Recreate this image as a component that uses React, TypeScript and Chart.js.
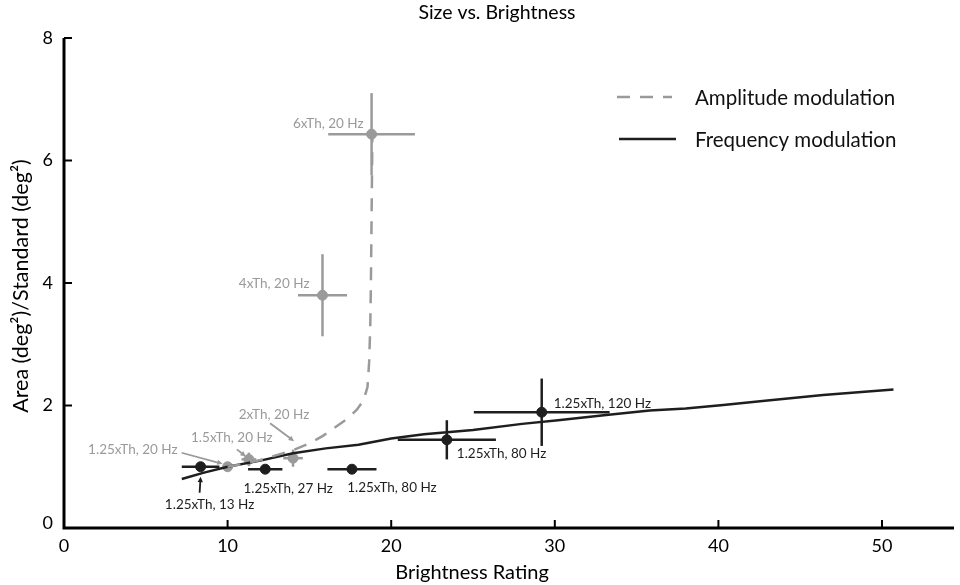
import React, { useEffect, useRef } from "react";
import { Chart, registerables } from "chart.js";

Chart.register(...registerables);

// ---- data ----
const xTicks = [0, 10, 20, 30, 40, 50];
const yTicks = [0, 2, 4, 6, 8];

// Amplitude modulation fitted curve
const amCurveX = [10, 11, 12, 13, 14, 15, 15.8, 16.6, 17.3, 17.9, 18.3, 18.55, 18.65, 18.72, 18.76, 18.79, 18.82, 18.85];
const amCurveY = [1.0, 1.05, 1.11, 1.19, 1.27, 1.38, 1.5, 1.65, 1.78, 1.93, 2.08, 2.3, 2.7, 3.3, 4.0, 4.8, 5.6, 6.43];

// Frequency modulation fitted curve
const fmCurveX = [7.2, 8.5, 10, 12, 14, 16, 18, 20, 22, 25, 28, 30.2, 33, 35.8, 38, 40.3, 43, 46.4, 50.7];
const fmCurveY = [0.8, 0.9, 1.0, 1.1, 1.22, 1.3, 1.36, 1.46, 1.53, 1.6, 1.7, 1.76, 1.84, 1.92, 1.95, 2.01, 2.08, 2.17, 2.26];

// Amplitude modulation points
const amLabels = ["1.25xTh, 20 Hz", "1.5xTh, 20 Hz", "2xTh, 20 Hz", "4xTh, 20 Hz", "6xTh, 20 Hz"];
const amX = [10.0, 11.3, 14.0, 15.8, 18.8];
const amY = [1.0, 1.12, 1.14, 3.8, 6.43];
const amXErr = [0, 0.45, 0.6, 1.5, 2.65];
const amYErr = [0, 0.11, 0.14, 0.67, 0.67];

// Frequency modulation points
const fmLabels = ["1.25xTh, 13 Hz", "1.25xTh, 27 Hz", "1.25xTh, 80 Hz", "1.25xTh, 80 Hz", "1.25xTh, 120 Hz"];
const fmX = [8.35, 12.3, 17.6, 23.4, 29.2];
const fmY = [1.0, 0.96, 0.96, 1.44, 1.89];
const fmXErr = [1.15, 1.05, 1.5, 3.0, 4.15];
const fmYErr = [0, 0, 0, 0.32, 0.55];

// ---- styling / label placement (pixel offsets from each point) ----
const GRAY = "#9a9a9a";
const BLACK = "#1e1e1e";
const FONT = "Lato, 'Open Sans', sans-serif";

type Ann = { dx: number; dy: number; align: CanvasTextAlign; arrow?: [number, number, number, number] };
const amAnn: Ann[] = [
  { dx: -50, dy: -17, align: "right", arrow: [-46, -14, -5, -3] },
  { dx: -17, dy: -22, align: "center", arrow: [-12, -10, -3, -3] },
  { dx: -19, dy: -44, align: "center", arrow: [-23, -35, 1, -17] },
  { dx: -13, dy: -12, align: "right" },
  { dx: -8, dy: -11, align: "right" },
];
const fmAnn: Ann[] = [
  { dx: 9, dy: 38, align: "center", arrow: [-1, 26, 0, 10] },
  { dx: 23, dy: 19, align: "center" },
  { dx: 40, dy: 18, align: "center" },
  { dx: 10, dy: 14, align: "left" },
  { dx: 12, dy: -9, align: "left" },
];

function drawArrow(ctx: CanvasRenderingContext2D, x1: number, y1: number, x2: number, y2: number, color: string) {
  ctx.save();
  ctx.strokeStyle = color;
  ctx.fillStyle = color;
  ctx.lineWidth = 1.8;
  const ang = Math.atan2(y2 - y1, x2 - x1);
  const hl = 6;
  ctx.beginPath();
  ctx.moveTo(x1, y1);
  ctx.lineTo(x2 - Math.cos(ang) * hl * 0.8, y2 - Math.sin(ang) * hl * 0.8);
  ctx.stroke();
  ctx.beginPath();
  ctx.moveTo(x2, y2);
  ctx.lineTo(x2 - hl * Math.cos(ang - 0.45), y2 - hl * Math.sin(ang - 0.45));
  ctx.lineTo(x2 - hl * Math.cos(ang + 0.45), y2 - hl * Math.sin(ang + 0.45));
  ctx.closePath();
  ctx.fill();
  ctx.restore();
}

const customPlugin = {
  id: "custom",
  beforeDatasetsDraw(chart: any) {
    const ctx: CanvasRenderingContext2D = chart.ctx;
    const xs = chart.scales.x;
    const ys = chart.scales.y;
    const bars = (X: number[], Y: number[], XE: number[], YE: number[], color: string) => {
      ctx.save();
      ctx.strokeStyle = color;
      ctx.lineWidth = 2.5;
      for (let i = 0; i < X.length; i++) {
        const px = xs.getPixelForValue(X[i]);
        const py = ys.getPixelForValue(Y[i]);
        if (XE[i] > 0) {
          ctx.beginPath();
          ctx.moveTo(xs.getPixelForValue(X[i] - XE[i]), py);
          ctx.lineTo(xs.getPixelForValue(X[i] + XE[i]), py);
          ctx.stroke();
        }
        if (YE[i] > 0) {
          ctx.beginPath();
          ctx.moveTo(px, ys.getPixelForValue(Y[i] - YE[i]));
          ctx.lineTo(px, ys.getPixelForValue(Y[i] + YE[i]));
          ctx.stroke();
        }
      }
      ctx.restore();
    };
    bars(amX, amY, amXErr, amYErr, GRAY);
    bars(fmX, fmY, fmXErr, fmYErr, BLACK);
  },
  afterDraw(chart: any) {
    const ctx: CanvasRenderingContext2D = chart.ctx;
    const xs = chart.scales.x;
    const ys = chart.scales.y;
    const area = chart.chartArea;
    ctx.save();
    // axes
    ctx.strokeStyle = "#000";
    ctx.lineWidth = 3;
    ctx.beginPath();
    ctx.moveTo(area.left, area.top);
    ctx.lineTo(area.left, area.bottom);
    ctx.lineTo(area.right, area.bottom);
    ctx.stroke();
    // inward ticks
    ctx.lineWidth = 2;
    xTicks.forEach((v) => {
      if (v === 0) return;
      const px = xs.getPixelForValue(v);
      ctx.beginPath();
      ctx.moveTo(px, area.bottom);
      ctx.lineTo(px, area.bottom - 8);
      ctx.stroke();
    });
    yTicks.forEach((v) => {
      if (v === 0) return;
      const py = ys.getPixelForValue(v);
      ctx.beginPath();
      ctx.moveTo(area.left, py);
      ctx.lineTo(area.left + 8, py);
      ctx.stroke();
    });
    // tick labels
    ctx.fillStyle = "#000";
    ctx.font = `18px ${FONT}`;
    ctx.textAlign = "center";
    ctx.textBaseline = "middle";
    xTicks.forEach((v) => ctx.fillText(String(v), xs.getPixelForValue(v), area.bottom + 18));
    ctx.textAlign = "right";
    yTicks.forEach((v) => ctx.fillText(String(v), area.left - 11, ys.getPixelForValue(v) - (v === 0 ? 5 : 0)));
    // axis titles
    ctx.font = `20px ${FONT}`;
    ctx.textAlign = "center";
    ctx.fillText("Brightness Rating", 472, 573);
    ctx.save();
    ctx.font = `21.5px ${FONT}`;
    ctx.translate(21, 286);
    ctx.rotate(-Math.PI / 2);
    ctx.fillText("Area (deg\u00B2)/Standard (deg\u00B2)", 0, 0);
    ctx.restore();
    // title
    ctx.font = `19.5px ${FONT}`;
    ctx.fillText("Size vs. Brightness", 497, 13);
    // legend
    const ds = chart.data.datasets;
    ctx.font = `20.5px ${FONT}`;
    ctx.textAlign = "left";
    const legendRows = [
      { ds: ds[0], y: 97, x1: 617, x2: 672 },
      { ds: ds[1], y: 139, x1: 619, x2: 676 },
    ];
    legendRows.forEach((r) => {
      ctx.save();
      ctx.strokeStyle = r.ds.borderColor;
      ctx.lineWidth = r.ds.borderWidth;
      ctx.setLineDash(r.ds.borderDash || []);
      ctx.beginPath();
      ctx.moveTo(r.x1, r.y);
      ctx.lineTo(r.x2, r.y);
      ctx.stroke();
      ctx.restore();
      ctx.fillStyle = "#111";
      ctx.fillText(r.ds.label, 695, r.y + 1);
    });
    // annotations
    ctx.font = `13.5px ${FONT}`;
    const ann = (X: number[], Y: number[], L: string[], A: Ann[], color: string) => {
      for (let i = 0; i < X.length; i++) {
        const px = xs.getPixelForValue(X[i]);
        const py = ys.getPixelForValue(Y[i]);
        const a = A[i];
        ctx.fillStyle = color;
        ctx.textAlign = a.align;
        ctx.textBaseline = "middle";
        ctx.fillText(L[i], px + a.dx, py + a.dy);
        if (a.arrow) drawArrow(ctx, px + a.arrow[0], py + a.arrow[1], px + a.arrow[2], py + a.arrow[3], color);
      }
    };
    ann(amX, amY, amLabels, amAnn, GRAY);
    ann(fmX, fmY, fmLabels, fmAnn, BLACK);
    ctx.restore();
  },
};

export default function App() {
  const ref = useRef<HTMLCanvasElement>(null);
  useEffect(() => {
    if (!ref.current) return;
    const toPts = (X: number[], Y: number[]) => X.map((x, i) => ({ x, y: Y[i] }));
    const chart = new Chart(ref.current, {
      type: "scatter",
      data: {
        datasets: [
          {
            type: "line",
            label: "Amplitude modulation",
            data: toPts(amCurveX, amCurveY),
            borderColor: GRAY,
            borderWidth: 2.5,
            borderDash: [13, 10],
            pointRadius: 0,
            fill: false,
          } as any,
          {
            type: "line",
            label: "Frequency modulation",
            data: toPts(fmCurveX, fmCurveY),
            borderColor: BLACK,
            borderWidth: 2.5,
            pointRadius: 0,
            fill: false,
          } as any,
          {
            label: "AM points",
            data: toPts(amX, amY),
            backgroundColor: GRAY,
            borderColor: GRAY,
            pointRadius: 5,
          },
          {
            label: "FM points",
            data: toPts(fmX, fmY),
            backgroundColor: BLACK,
            borderColor: BLACK,
            pointRadius: 5,
          },
        ],
      },
      options: {
        animation: false,
        responsive: true,
        maintainAspectRatio: false,
        layout: { padding: { top: 38, right: 2, left: 0, bottom: 0 } },
        plugins: { legend: { display: false }, tooltip: { enabled: false }, title: { display: false } },
        scales: {
          x: {
            type: "linear",
            min: 0,
            max: 54.4,
            grid: { display: false },
            border: { display: false },
            ticks: { display: false },
            afterFit: (s: any) => {
              s.height = 57;
            },
          },
          y: {
            type: "linear",
            min: 0,
            max: 8,
            grid: { display: false },
            border: { display: false },
            ticks: { display: false },
            afterFit: (s: any) => {
              s.width = 64;
            },
          },
        },
      },
      plugins: [customPlugin],
    });
    return () => chart.destroy();
  }, []);
  return (
    <div style={{ position: "fixed", left: 0, top: 0, width: 960, height: 585, background: "#fff" }}>
      <canvas ref={ref} />
    </div>
  );
}
